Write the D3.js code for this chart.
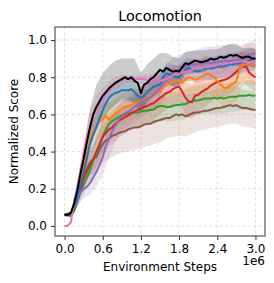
<!DOCTYPE html>
<html>
<head>
<meta charset="utf-8">
<script src="https://cdn.jsdelivr.net/npm/d3@7"></script>
<style>
  body { margin: 0; background: #fff; }
  svg { font-family: "DejaVu Sans", sans-serif; }
</style>
</head>
<body>
<div class="chart"></div>
<script>
const w = 274;
const h = 283;
const margin = { top: 27, right: 9, bottom: 47, left: 55 };

// environment steps (x 1e6): lines every 0.05, bands every 0.1
const steps = d3.range(0, 61).map((i) => i / 20);
const bandSteps = d3.range(0, 31).map((i) => i / 10);

const xTicks = [0, 0.6, 1.2, 1.8, 2.4, 3.0];
const yTicks = [0, 0.2, 0.4, 0.6, 0.8, 1.0];

// mean normalized score per method
const brown = [0.06, 0.06, 0.07, 0.10, 0.15, 0.21, 0.27, 0.31, 0.34, 0.36, 0.37, 0.41, 0.44, 0.46, 0.47, 0.485, 0.49, 0.50, 0.505, 0.51, 0.52, 0.525, 0.53, 0.53, 0.535, 0.545, 0.55, 0.55, 0.56, 0.565, 0.57, 0.575, 0.58, 0.58, 0.59, 0.60, 0.595, 0.60, 0.59, 0.595, 0.605, 0.61, 0.61, 0.615, 0.62, 0.62, 0.625, 0.63, 0.635, 0.635, 0.64, 0.645, 0.65, 0.645, 0.65, 0.64, 0.635, 0.635, 0.63, 0.625, 0.625];
const green = [0.06, 0.055, 0.055, 0.08, 0.13, 0.18, 0.22, 0.26, 0.30, 0.35, 0.39, 0.43, 0.48, 0.52, 0.55, 0.565, 0.575, 0.585, 0.595, 0.60, 0.605, 0.61, 0.61, 0.61, 0.615, 0.62, 0.62, 0.625, 0.625, 0.64, 0.645, 0.645, 0.64, 0.64, 0.645, 0.65, 0.65, 0.655, 0.655, 0.665, 0.67, 0.675, 0.675, 0.68, 0.685, 0.685, 0.685, 0.69, 0.685, 0.69, 0.685, 0.69, 0.695, 0.695, 0.695, 0.70, 0.70, 0.70, 0.705, 0.70, 0.70];
const red = [0.06, 0.06, 0.06, 0.09, 0.14, 0.20, 0.25, 0.29, 0.33, 0.36, 0.40, 0.44, 0.48, 0.50, 0.52, 0.53, 0.55, 0.565, 0.575, 0.585, 0.595, 0.605, 0.615, 0.625, 0.63, 0.64, 0.645, 0.655, 0.66, 0.675, 0.69, 0.70, 0.715, 0.72, 0.735, 0.745, 0.75, 0.72, 0.69, 0.67, 0.665, 0.70, 0.705, 0.72, 0.73, 0.74, 0.755, 0.765, 0.775, 0.78, 0.785, 0.79, 0.80, 0.815, 0.83, 0.845, 0.855, 0.86, 0.825, 0.81, 0.80];
const orange = [0.06, 0.06, 0.07, 0.10, 0.15, 0.25, 0.32, 0.39, 0.46, 0.51, 0.54, 0.56, 0.575, 0.59, 0.57, 0.59, 0.605, 0.615, 0.63, 0.64, 0.645, 0.65, 0.66, 0.665, 0.67, 0.68, 0.69, 0.70, 0.705, 0.715, 0.72, 0.745, 0.76, 0.765, 0.775, 0.78, 0.785, 0.77, 0.79, 0.80, 0.795, 0.785, 0.795, 0.80, 0.815, 0.82, 0.81, 0.80, 0.78, 0.76, 0.745, 0.74, 0.755, 0.765, 0.78, 0.84, 0.865, 0.87, 0.875, 0.87, 0.865];
const purple = [0.06, 0.06, 0.07, 0.10, 0.13, 0.18, 0.20, 0.21, 0.23, 0.26, 0.29, 0.33, 0.37, 0.43, 0.47, 0.51, 0.54, 0.57, 0.59, 0.605, 0.615, 0.625, 0.64, 0.655, 0.665, 0.675, 0.685, 0.69, 0.705, 0.72, 0.74, 0.76, 0.785, 0.81, 0.825, 0.835, 0.84, 0.845, 0.855, 0.86, 0.865, 0.87, 0.87, 0.875, 0.875, 0.88, 0.875, 0.88, 0.88, 0.885, 0.885, 0.89, 0.885, 0.89, 0.89, 0.89, 0.90, 0.915, 0.92, 0.925, 0.93];
const blue = [0.06, 0.06, 0.07, 0.10, 0.15, 0.22, 0.29, 0.36, 0.44, 0.49, 0.53, 0.58, 0.62, 0.66, 0.69, 0.705, 0.715, 0.72, 0.73, 0.73, 0.73, 0.735, 0.72, 0.70, 0.69, 0.70, 0.72, 0.735, 0.75, 0.755, 0.76, 0.80, 0.82, 0.815, 0.81, 0.80, 0.80, 0.82, 0.84, 0.85, 0.84, 0.835, 0.83, 0.84, 0.845, 0.85, 0.845, 0.85, 0.855, 0.86, 0.86, 0.865, 0.87, 0.87, 0.875, 0.875, 0.88, 0.885, 0.89, 0.895, 0.90];
const pink = [0.00, 0.00, 0.02, 0.13, 0.21, 0.30, 0.39, 0.47, 0.54, 0.59, 0.63, 0.66, 0.68, 0.71, 0.73, 0.75, 0.765, 0.775, 0.785, 0.79, 0.79, 0.79, 0.79, 0.79, 0.79, 0.79, 0.785, 0.775, 0.785, 0.80, 0.78, 0.785, 0.79, 0.80, 0.81, 0.815, 0.82, 0.825, 0.83, 0.83, 0.84, 0.845, 0.85, 0.845, 0.855, 0.855, 0.86, 0.86, 0.865, 0.87, 0.87, 0.875, 0.875, 0.88, 0.88, 0.885, 0.885, 0.885, 0.88, 0.885, 0.885];
const black = [0.06, 0.06, 0.07, 0.12, 0.19, 0.28, 0.36, 0.45, 0.53, 0.60, 0.64, 0.67, 0.70, 0.72, 0.74, 0.755, 0.77, 0.78, 0.79, 0.80, 0.79, 0.80, 0.78, 0.77, 0.715, 0.76, 0.77, 0.79, 0.80, 0.82, 0.84, 0.83, 0.85, 0.84, 0.83, 0.835, 0.83, 0.855, 0.875, 0.87, 0.88, 0.89, 0.885, 0.88, 0.885, 0.89, 0.90, 0.895, 0.90, 0.91, 0.905, 0.91, 0.92, 0.915, 0.92, 0.91, 0.905, 0.91, 0.91, 0.90, 0.90];

// spread (shaded band half width) per method, every 0.1
const brownStd = [0.00, 0.01, 0.03, 0.05, 0.07, 0.09, 0.10, 0.11, 0.11, 0.11, 0.12, 0.12, 0.12, 0.12, 0.12, 0.12, 0.11, 0.11, 0.11, 0.11, 0.11, 0.10, 0.10, 0.10, 0.10, 0.10, 0.10, 0.10, 0.10, 0.10, 0.10];
const greenStd = [0.00, 0.01, 0.03, 0.05, 0.07, 0.08, 0.09, 0.09, 0.08, 0.08, 0.08, 0.08, 0.08, 0.08, 0.08, 0.08, 0.08, 0.08, 0.08, 0.08, 0.08, 0.08, 0.08, 0.08, 0.08, 0.08, 0.08, 0.08, 0.08, 0.08, 0.08];
const redStd = [0.00, 0.01, 0.03, 0.05, 0.06, 0.08, 0.09, 0.09, 0.09, 0.09, 0.09, 0.09, 0.09, 0.09, 0.09, 0.09, 0.09, 0.09, 0.09, 0.09, 0.09, 0.09, 0.09, 0.09, 0.09, 0.09, 0.09, 0.09, 0.08, 0.08, 0.08];
const orangeStd = [0.00, 0.01, 0.03, 0.06, 0.08, 0.09, 0.09, 0.09, 0.08, 0.08, 0.08, 0.08, 0.08, 0.08, 0.08, 0.08, 0.08, 0.08, 0.08, 0.09, 0.09, 0.09, 0.10, 0.10, 0.10, 0.11, 0.11, 0.11, 0.11, 0.11, 0.11];
const purpleStd = [0.00, 0.01, 0.03, 0.05, 0.06, 0.08, 0.10, 0.10, 0.09, 0.08, 0.08, 0.08, 0.08, 0.08, 0.08, 0.08, 0.08, 0.08, 0.08, 0.08, 0.08, 0.08, 0.09, 0.09, 0.09, 0.09, 0.09, 0.08, 0.07, 0.07, 0.07];
const blueStd = [0.00, 0.01, 0.03, 0.06, 0.08, 0.08, 0.07, 0.06, 0.06, 0.06, 0.06, 0.06, 0.06, 0.06, 0.06, 0.06, 0.06, 0.06, 0.06, 0.06, 0.06, 0.06, 0.06, 0.06, 0.06, 0.06, 0.06, 0.06, 0.06, 0.06, 0.06];
const pinkStd = [0.00, 0.01, 0.04, 0.07, 0.08, 0.07, 0.06, 0.05, 0.04, 0.03, 0.02, 0.02, 0.02, 0.03, 0.04, 0.05, 0.05, 0.05, 0.05, 0.05, 0.05, 0.05, 0.05, 0.05, 0.05, 0.05, 0.05, 0.05, 0.05, 0.05, 0.05];
const blackStd = [0.01, 0.01, 0.03, 0.06, 0.10, 0.12, 0.12, 0.12, 0.12, 0.11, 0.11, 0.12, 0.11, 0.10, 0.10, 0.09, 0.08, 0.08, 0.07, 0.06, 0.06, 0.06, 0.06, 0.05, 0.05, 0.06, 0.06, 0.06, 0.05, 0.05, 0.05];

const series = [
  { color: "#8c564b", mean: brown, std: brownStd, alpha: 0.17 },
  { color: "#2ca02c", mean: green, std: greenStd, alpha: 0.17 },
  { color: "#d62728", mean: red, std: redStd, alpha: 0.17 },
  { color: "#ff7f0e", mean: orange, std: orangeStd, alpha: 0.17 },
  { color: "#9467bd", mean: purple, std: purpleStd, alpha: 0.17 },
  { color: "#1f77b4", mean: blue, std: blueStd, alpha: 0.17 },
  { color: "#e377c2", mean: pink, std: pinkStd, alpha: 0.17 },
  { color: "#000000", mean: black, std: blackStd, alpha: 0.2 },
];

const svg = d3
  .select(".chart")
  .append("svg")
  .attr("width", w)
  .attr("height", h);

const x = d3
  .scaleLinear()
  .domain([-0.15, 3.15])
  .range([margin.left, w - margin.right]);
const y = d3
  .scaleLinear()
  .domain([-0.054, 1.07])
  .range([h - margin.bottom, margin.top]);

// grid
const grid = svg.append("g").attr("stroke", "#d9d9d9").attr("stroke-dasharray", "3,2.5").attr("stroke-width", 0.8);
grid.selectAll(".gx").data(xTicks).enter().append("line")
  .attr("x1", (d) => x(d)).attr("x2", (d) => x(d))
  .attr("y1", margin.top).attr("y2", h - margin.bottom);
grid.selectAll(".gy").data(yTicks).enter().append("line")
  .attr("y1", (d) => y(d)).attr("y2", (d) => y(d))
  .attr("x1", margin.left).attr("x2", w - margin.right);

svg.append("clipPath").attr("id", "clip").append("rect")
  .attr("x", margin.left).attr("y", margin.top)
  .attr("width", w - margin.left - margin.right)
  .attr("height", h - margin.top - margin.bottom);

const plot = svg.append("g").attr("clip-path", "url(#clip)");

//bands (mean sampled every 0.1)
series.forEach((s) => {
  const area = d3.area()
    .x((d, i) => x(bandSteps[i]))
    .y0((d, i) => y(s.mean[i * 2] - d))
    .y1((d, i) => y(s.mean[i * 2] + d));
  plot.append("path")
    .datum(s.std)
    .attr("d", area)
    .attr("fill", s.color)
    .attr("fill-opacity", s.alpha);
});

//lines
series.forEach((s) => {
  const line = d3.line()
    .x((d, i) => x(steps[i]))
    .y((d) => y(d));
  plot.append("path")
    .datum(s.mean)
    .attr("d", line)
    .attr("fill", "none")
    .attr("stroke", s.color)
    .attr("stroke-width", 2)
    .attr("stroke-linejoin", "round");
});

// axes
const xAxis = svg.append("g")
  .attr("transform", `translate(0,${h - margin.bottom})`)
  .call(d3.axisBottom(x).tickValues(xTicks).tickFormat(d3.format(".1f")).tickSize(4).tickPadding(4));
const yAxis = svg.append("g")
  .attr("transform", `translate(${margin.left},0)`)
  .call(d3.axisLeft(y).tickValues(yTicks).tickFormat(d3.format(".1f")).tickSize(4).tickPadding(4));
[xAxis, yAxis].forEach((a) => {
  a.select(".domain").remove();
  a.selectAll("text").attr("font-size", 12).attr("fill", "#000").attr("font-family", "DejaVu Sans");
  a.selectAll("line").attr("stroke", "#333");
});

svg.append("rect")
  .attr("x", margin.left).attr("y", margin.top)
  .attr("width", w - margin.left - margin.right)
  .attr("height", h - margin.top - margin.bottom)
  .attr("fill", "none")
  .attr("stroke", "#333")
  .attr("stroke-width", 1);

svg.append("text")
  .attr("x", (margin.left + w - margin.right) / 2)
  .attr("y", 21)
  .attr("text-anchor", "middle")
  .attr("font-size", 14.4)
  .text("Locomotion");

svg.append("text")
  .attr("x", (margin.left + w - margin.right) / 2)
  .attr("y", 271)
  .attr("text-anchor", "middle")
  .attr("font-size", 12)
  .text("Environment Steps");

svg.append("text")
  .attr("x", w - margin.right)
  .attr("y", 265)
  .attr("text-anchor", "end")
  .attr("font-size", 12)
  .text("1e6");

svg.append("text")
  .attr("transform", `translate(18,${(margin.top + h - margin.bottom) / 2}) rotate(-90)`)
  .attr("text-anchor", "middle")
  .attr("font-size", 12)
  .text("Normalized Score");
</script>
</body>
</html>
